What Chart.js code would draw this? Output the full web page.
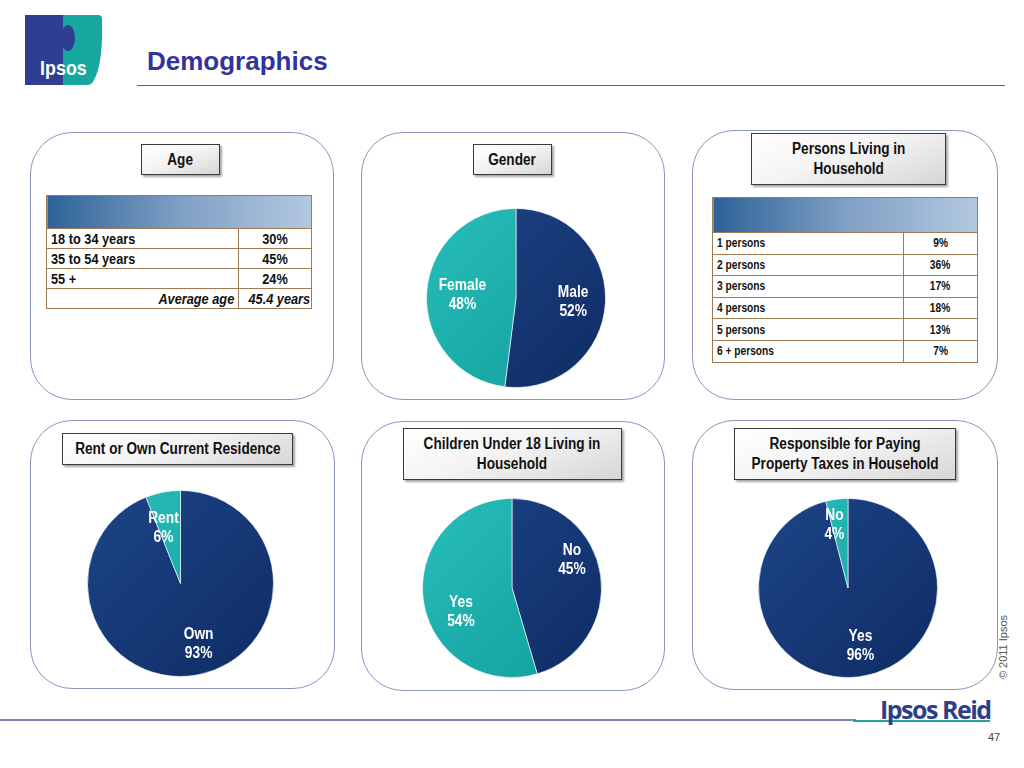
<!DOCTYPE html>
<html>
<head>
<meta charset="utf-8">
<script src="https://cdn.jsdelivr.net/npm/chart.js@4.4.0/dist/chart.umd.min.js"></script>
<style>
  html, body { margin: 0; padding: 0; background: #fff; }
  body { width: 1024px; height: 768px; position: relative; overflow: hidden;
         font-family: 'Liberation Sans', Arial, sans-serif; }
  .abs { position: absolute; }
  .panel { position: absolute; border: 1px solid #8a96c0; border-radius: 42px; background: #fff; }
  .tbox { position: absolute; border: 1px solid #3a3a3a; box-sizing: border-box;
          background: linear-gradient(160deg, #ffffff 0%, #f4f4f4 45%, #d6d6d6 100%);
          box-shadow: 2px 2px 2px rgba(0,0,0,0.35);
          display: flex; align-items: center; justify-content: center; text-align: center;
          font-weight: bold; font-size: 16px; line-height: 20px; color: #111; }
  /* narrow look: squeeze text horizontally */
  .nar { display: inline-block; white-space: nowrap; transform: scaleX(0.85); }
  table { position: absolute; border-collapse: collapse; table-layout: fixed; font-weight: bold; color: #111; }
  td { border: 1px solid #a07a52; padding: 0 4px; white-space: nowrap; overflow: visible; }
  td.hd { background: linear-gradient(90deg, #2d6298 0%, #7f9fc4 50%, #b3c8e0 100%); }
  td .nar { transform-origin: left center; }
  td.num { text-align: center; }
  td.num .nar { transform-origin: center center; }
  td.rt { text-align: right; }
  td.rt .nar { transform-origin: right center; }
  .pie { position: absolute; }
</style>
</head>
<body>

<!-- header -->
<div class="abs" style="left:25px;top:15px;width:77px;height:70px;overflow:hidden;">
  <div class="abs" style="left:0;top:0;width:40px;height:70px;background:#2e3f93;"></div>
  <div class="abs" style="left:38px;top:0;width:39px;height:70px;background:#16a8a0;border-radius:0 4px 14px 0 / 0 4px 50px 0;"></div>
  <div class="abs" style="left:36px;top:10px;width:14px;height:26px;border-radius:50%;background:#2e3f93;"></div>
  <div class="abs" style="left:0;top:41px;width:77px;text-align:center;color:#fff;font-weight:bold;font-size:21px;"><span class="nar">Ipsos</span></div>
</div>
<div class="abs" style="left:147px;top:46px;font-weight:bold;font-size:26px;color:#333399;">Demographics</div>
<div class="abs" style="left:137px;top:85px;width:868px;height:1px;background:#5a5aa8;"></div>

<!-- panels -->
<div class="panel" style="left:30px;top:132px;width:302px;height:266px;"></div>
<div class="panel" style="left:361px;top:132px;width:302px;height:266px;"></div>
<div class="panel" style="left:692px;top:130px;width:304px;height:268px;"></div>
<div class="panel" style="left:30px;top:420px;width:303px;height:267px;"></div>
<div class="panel" style="left:361px;top:421px;width:302px;height:268px;"></div>
<div class="panel" style="left:692px;top:420px;width:304px;height:268px;"></div>

<!-- title boxes -->
<div class="tbox" style="left:141px;top:144px;width:79px;height:31px;"><span class="nar">Age</span></div>
<div class="tbox" style="left:473px;top:144px;width:79px;height:31px;"><span class="nar">Gender</span></div>
<div class="tbox" style="left:751px;top:133px;width:195px;height:52px;"><span class="nar">Persons Living in<br>Household</span></div>
<div class="tbox" style="left:62px;top:433px;width:231px;height:32px;"><span class="nar">Rent or Own Current Residence</span></div>
<div class="tbox" style="left:403px;top:428px;width:219px;height:52px;"><span class="nar">Children Under 18 Living in<br>Household</span></div>
<div class="tbox" style="left:734px;top:428px;width:222px;height:52px;"><span class="nar">Responsible for Paying<br>Property Taxes in Household</span></div>

<!-- tables -->
<table id="ageTable" style="left:46px;top:195px;width:265px;font-size:15px;"></table>
<table id="hhTable" style="left:712px;top:197px;width:265px;font-size:12px;"></table>

<!-- pies -->
<div class="pie" style="left:426px;top:208px;width:180px;height:180px;"><canvas id="genderPie"></canvas></div>
<div class="pie" style="left:87px;top:490px;width:187px;height:187px;"><canvas id="residencePie"></canvas></div>
<div class="pie" style="left:422px;top:498px;width:180px;height:180px;"><canvas id="childrenPie"></canvas></div>
<div class="pie" style="left:758px;top:498px;width:180px;height:180px;"><canvas id="taxPie"></canvas></div>

<!-- footer -->
<div class="abs" style="left:0;top:719px;width:856px;height:2px;background:#7f84bd;"></div>
<div class="abs" style="left:853px;top:720px;width:137px;height:2px;background:#2aa39c;"></div>
<div class="abs" style="left:880px;top:692px;font-family:'Open Sans','Liberation Sans',sans-serif;font-weight:bold;font-size:25px;letter-spacing:-1.5px;color:#2c3e8c;">Ipsos Reid</div>
<div class="abs" style="left:988px;top:731px;font-size:11px;color:#444;">47</div>
<div class="abs" style="left:948px;top:641px;width:110px;text-align:center;transform:rotate(-90deg);font-size:11px;color:#555;">&copy; 2011 Ipsos</div>

<script>
// tables
const ageGroups = ['18 to 34 years', '35 to 54 years', '55 +'];
const agePct = [30, 45, 24];
const averageAge = '45.4 years';

const householdSizes = ['1 persons', '2 persons', '3 persons', '4 persons', '5 persons', '6 + persons'];
const householdPct = [9, 36, 17, 18, 13, 7];

// pies
const genderLabels = ['Male', 'Female'];
const genderPct = [52, 48];
const residenceLabels = ['Own', 'Rent'];
const residencePct = [93, 6];
const childrenLabels = ['No', 'Yes'];
const childrenPct = [45, 54];
const taxLabels = ['Yes', 'No'];
const taxPct = [96, 4];

function nar(t) { return '<span class="nar">' + t + '</span>'; }

// build the age table
let html = '<colgroup><col style="width:192px"><col style="width:73px"></colgroup>' +
           '<tr><td class="hd" colspan="2" style="height:32px"></td></tr>';
ageGroups.forEach(function(g, i) {
    html += '<tr style="height:20px"><td>' + nar(g) + '</td><td class="num">' + nar(agePct[i] + '%') + '</td></tr>';
});
html += '<tr style="height:20px"><td class="rt" style="font-style:italic">' + nar('Average age') + '</td>' +
        '<td class="num" style="font-style:italic">' + nar(averageAge) + '</td></tr>';
document.getElementById('ageTable').innerHTML = html;

// build the household table
html = '<colgroup><col style="width:191px"><col style="width:74px"></colgroup>' +
       '<tr><td class="hd" colspan="2" style="height:34px"></td></tr>';
householdSizes.forEach(function(s, i) {
    html += '<tr style="height:21.6px"><td>' + nar(s) + '</td><td class="num">' + nar(householdPct[i] + '%') + '</td></tr>';
});
document.getElementById('hhTable').innerHTML = html;

// slice fills: navy and teal with a soft shading
function fill(ctx, dark) {
    const chart = ctx.chart;
    const a = chart.chartArea;
    if (!a) return dark ? '#163a7a' : '#1cb0ad';
    const g = chart.ctx.createLinearGradient(a.left, a.top, a.right, a.bottom);
    if (dark) {
        g.addColorStop(0, '#1d4588');
        g.addColorStop(1, '#0f2c64');
    } else {
        g.addColorStop(0, '#28bdb9');
        g.addColorStop(1, '#109e9c');
    }
    return g;
}

// white two-line labels inside each slice
const sliceLabels = {
    id: 'sliceLabels',
    afterDatasetsDraw(chart) {
        const ctx = chart.ctx;
        const meta = chart.getDatasetMeta(0);
        const opt = chart.options.plugins.sliceLabels;
        ctx.save();
        ctx.fillStyle = '#ffffff';
        ctx.textAlign = 'center';
        ctx.textBaseline = 'middle';
        ctx.font = "bold 16px 'Liberation Sans', Arial, sans-serif";
        meta.data.forEach(function(arc, i) {
            const mid = (arc.startAngle + arc.endAngle) / 2 + opt.shift * Math.PI / 180;
            const r = arc.outerRadius * opt.factor[i];
            const x = arc.x + Math.cos(mid) * r;
            const y = arc.y + Math.sin(mid) * r;
            ctx.save();
            ctx.translate(x, y);
            ctx.scale(0.86, 1);
            ctx.fillText(chart.data.labels[i], 0, -9);
            ctx.fillText(chart.data.datasets[0].data[i] + '%', 0, 10);
            ctx.restore();
        });
        ctx.restore();
    }
};

function makePie(id, labels, values, factor, shift) {
    return new Chart(document.getElementById(id), {
        type: 'pie',
        data: {
            labels: labels,
            datasets: [{
                data: values,
                backgroundColor: function(ctx) { return fill(ctx, ctx.dataIndex === 0); },
                borderColor: 'rgba(255,255,255,0.6)',
                borderWidth: 1
            }]
        },
        options: {
            responsive: true,
            maintainAspectRatio: false,
            animation: false,
            layout: { padding: 0 },
            plugins: {
                legend: { display: false },
                tooltip: { enabled: false },
                sliceLabels: { factor: factor, shift: shift }
            }
        },
        plugins: [sliceLabels]
    });
}

makePie('genderPie', genderLabels, genderPct, [0.64, 0.6], 0);
makePie('residencePie', residenceLabels, residencePct, [0.67, 0.63], -6);
makePie('childrenPie', childrenLabels, childrenPct, [0.74, 0.63], -17);
makePie('taxPie', taxLabels, taxPct, [0.66, 0.72], -5);
</script>
</body>
</html>
